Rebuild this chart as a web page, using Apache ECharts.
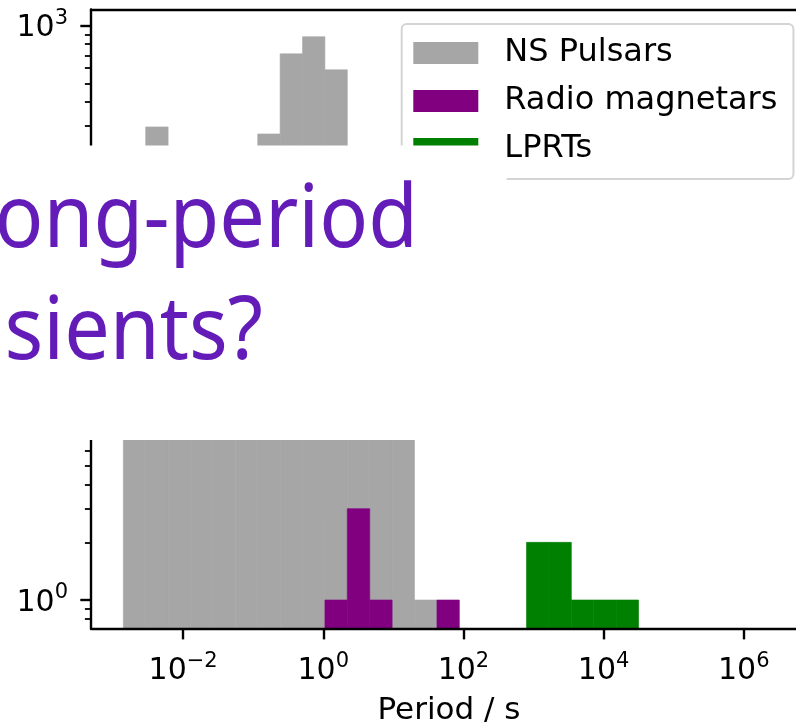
<!DOCTYPE html>
<html>
<head>
<meta charset="utf-8">
<script src="https://cdn.jsdelivr.net/npm/echarts@6/dist/echarts.min.js"></script>
<style>
  html, body { margin: 0; padding: 0; background: #fff; }
  #chart { width: 796px; height: 727px; }
</style>
</head>
<body>
<div id="chart"></div>
<script>
// Histogram bin edges (period, seconds), equal width in log10(P)
const binEdges = [0.00140, 0.00292, 0.00610, 0.0127, 0.0266, 0.0555, 0.116, 0.242,
  0.506, 1.055, 2.20, 4.60, 9.60, 20.0, 41.9, 87.4, 182.5, 381, 795, 1660,
  3467, 7240, 15100, 31550];

// Counts per bin for each population
const pulsarCounts   = [120, 296, 100, 30, 40, 120, 272, 713, 876, 588, 150, 25, 12, 1, 0, 0, 0, 0, 0, 0, 0, 0, 0];
const magnetarCounts = [0, 0, 0, 0, 0, 0, 0, 0, 0, 1, 3, 1, 0, 0, 1, 0, 0, 0, 0, 0, 0, 0, 0];
const lprtCounts     = [0, 0, 0, 0, 0, 0, 0, 0, 0, 0, 0, 0, 0, 0, 0, 0, 0, 0, 2, 2, 1, 1, 1];

const seriesNames  = ['NS Pulsars', 'Radio magnetars', 'LPRTs'];
const seriesColors = ['#a6a6a6', '#800080', '#008000'];

// Axis ranges and ticks
const xMin = 0.000484, xMax = 8.0e6;
const yMin = 0.708, yMax = 1215;
const xMajorTicks = [0.01, 1, 100, 1e4, 1e6];
const yMajorTicks = [1, 10, 100, 1000];
const yMinorTicks = [0.8, 0.9, 2, 3, 4, 5, 6, 7, 8, 9, 20, 30, 40, 50, 60, 70, 80, 90,
  200, 300, 400, 500, 600, 700, 800, 900];

const FONT = 'DejaVu Sans';

function binData(counts) {
  const out = [];
  counts.forEach((c, i) => {
    if (c > 0) out.push([binEdges[i], binEdges[i + 1], c]);
  });
  return out;
}

// Each bin is a filled rectangle from the axis floor up to its count
function renderBar(params, api) {
  const lo = api.value(0), hi = api.value(1), c = api.value(2);
  const p1 = api.coord([lo, c]);
  const p2 = api.coord([hi, yMin]);
  const col = seriesColors[params.seriesIndex];
  return {
    type: 'rect',
    shape: { x: p1[0], y: p1[1], width: p2[0] - p1[0], height: p2[1] - p1[1] },
    style: { fill: col, stroke: col, lineWidth: 0.6 }
  };
}

function powLabel(v) {
  const e = Math.round(Math.log10(v));
  const s = e < 0 ? '\u2212' + (-e) : String(e);
  return '{b|10}{s|' + s + '}';
}

const labelRich = {
  b: { fontSize: 30, fontFamily: FONT, color: '#000', lineHeight: 36, verticalAlign: 'bottom' },
  s: { fontSize: 21, fontFamily: FONT, color: '#000', lineHeight: 22, verticalAlign: 'top' }
};

const chart = echarts.init(document.getElementById('chart'), null, { renderer: 'canvas' });

chart.setOption({
  animation: false,
  backgroundColor: '#fff',
  grid: { left: 91, top: 9.5, width: 716, height: 619.2, containLabel: false, outerBoundsMode: 'none' },
  legend: {
    orient: 'vertical',
    left: 401.7, top: 24,
    padding: [11, 16, 12, 11.6],
    itemWidth: 65, itemHeight: 22, itemGap: 12,
    backgroundColor: '#fff',
    borderColor: '#d4d4d4', borderWidth: 2, borderRadius: 5,
    z: 4,
    textStyle: { fontFamily: FONT, fontSize: 32, color: '#000', lineHeight: 36, padding: [0, 0, 0, 21] },
    data: seriesNames.map((n, i) => ({ name: n, icon: 'rect', itemStyle: { color: seriesColors[i] } }))
  },
  xAxis: [{
    type: 'log', logBase: 10, min: xMin, max: xMax, z: 3,
    axisLine: { show: true, lineStyle: { color: '#000', width: 2.4 } },
    axisTick: { show: true, customValues: xMajorTicks, length: 10.7, lineStyle: { color: '#000', width: 2.4 } },
    minorTick: { show: false },
    splitLine: { show: false },
    axisLabel: { customValues: xMajorTicks, margin: 22, formatter: powLabel, rich: labelRich }
  }, {
    type: 'log', logBase: 10, min: xMin, max: xMax, position: 'top', z: 3,
    axisLine: { show: true, lineStyle: { color: '#000', width: 2.4 } },
    axisTick: { show: false }, axisLabel: { show: false }, splitLine: { show: false }
  }],
  yAxis: [{
    type: 'log', logBase: 10, min: yMin, max: yMax, z: 3,
    axisLine: { show: true, lineStyle: { color: '#000', width: 2.4 } },
    axisTick: { show: true, customValues: yMajorTicks, length: 10.7, lineStyle: { color: '#000', width: 2.4 } },
    splitLine: { show: false },
    axisLabel: { customValues: yMajorTicks, margin: 23, formatter: powLabel, rich: labelRich }
  }, {
    type: 'log', logBase: 10, min: yMin, max: yMax, position: 'left', z: 3,
    axisLine: { show: false },
    axisTick: { show: true, customValues: yMinorTicks, length: 6.1, lineStyle: { color: '#000', width: 1.8 } },
    axisLabel: { show: false }, splitLine: { show: false }
  }],
  series: seriesNames.map((n, i) => ({
    name: n,
    type: 'custom',
    xAxisIndex: 0, yAxisIndex: 0,
    z: 1,
    itemStyle: { color: seriesColors[i] },
    encode: { x: [0, 1], y: 2 },
    renderItem: renderBar,
    data: binData([pulsarCounts, magnetarCounts, lprtCounts][i])
  })),
  graphic: { elements: [
    // title panel laid over the middle of the plot
    { type: 'rect', z: 5, silent: true, shape: { x: 0, y: 145.5, width: 506.7, height: 294.5 }, style: { fill: '#fff' } },
    { type: 'text', z: 11, x: 418, y: 222, scaleX: 0.92,
      style: { text: 'Long-period', font: '88px "Noto Sans"', fill: '#641cb9', textAlign: 'right', textVerticalAlign: 'middle' } },
    { type: 'text', z: 11, x: 263, y: 334, scaleX: 0.92,
      style: { text: 'transients?', font: '88px "Noto Sans"', fill: '#641cb9', textAlign: 'right', textVerticalAlign: 'middle' } },
    { type: 'text', z: 11, x: 449, y: 711,
      style: { text: 'Period / s', font: '31px "DejaVu Sans"', fill: '#000', textAlign: 'center', textVerticalAlign: 'middle' } }
  ] }
});
</script>
</body>
</html>
